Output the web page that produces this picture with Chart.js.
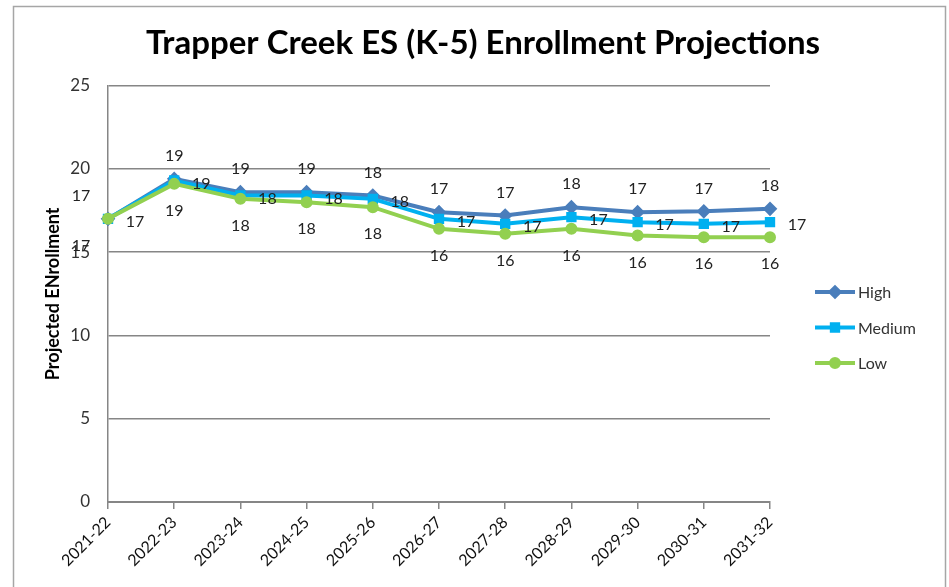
<!DOCTYPE html>
<html lang="en">
<head>
<meta charset="UTF-8">
<title>Trapper Creek ES Enrollment Projections</title>
<script src="https://cdn.jsdelivr.net/npm/chart.js"></script>
<style>
  body { margin: 0; background: #fff; }
  #wrap { width: 949px; height: 587px; }
</style>
</head>
<body>
<div id="wrap"><canvas id="enrollChart" width="949" height="587"></canvas></div>
<script>
// school years on the x axis
const years = ['2021-22', '2022-23', '2023-24', '2024-25', '2025-26', '2026-27',
               '2027-28', '2028-29', '2029-30', '2030-31', '2031-32'];

// projected enrollment
const high   = [17.0, 19.4, 18.6, 18.6, 18.4, 17.4, 17.2, 17.7, 17.4, 17.45, 17.6];
const medium = [17.0, 19.3, 18.4, 18.4, 18.2, 17.0, 16.7, 17.1, 16.8, 16.7, 16.8];
const low    = [17.0, 19.1, 18.2, 18.0, 17.7, 16.4, 16.1, 16.4, 16.0, 15.9, 15.9];

const yTicks = [0, 5, 10, 15, 20, 25];

const FONT = 'Lato, "Open Sans", sans-serif';
const TEXT = '#333333';

// frame around the whole chart
const framePlugin = {
    id: 'frame',
    beforeDraw(chart) {
        const ctx = chart.ctx;
        ctx.save();
        ctx.fillStyle = '#fff';
        ctx.fillRect(0, 0, chart.width, chart.height);
        ctx.strokeStyle = '#a6a6a6';
        ctx.lineWidth = 1.5;
        ctx.strokeRect(13.5, 6.5, 932, 600);
        ctx.restore();
    }
};

// centre the title over the whole frame, not just the plot
const titleShift = {
    id: 'titleShift',
    afterLayout(chart) {
        const t = chart.titleBlock;
        if (t) { t.left = 17; t.right = 949; t.width = 932; }
    }
};

// value labels next to each point (high above, medium right, low below)
const valueLabels = {
    id: 'valueLabels',
    afterDatasetsDraw(chart) {
        const ctx = chart.ctx;
        ctx.save();
        ctx.font = '16px ' + FONT;
        ctx.fillStyle = '#222';
        ctx.textAlign = 'center';
        ctx.textBaseline = 'middle';
        chart.data.datasets.forEach((ds, i) => {
            const meta = chart.getDatasetMeta(i);
            meta.data.forEach((pt, j) => {
                let x = pt.x, y = pt.y;
                if (ds.labelPos === 'top') { y -= 23; if (j === 0) x -= 27; }
                else if (ds.labelPos === 'bottom') { y += 27; if (j === 0) x -= 27; }
                else { x += 27; y += 3; }
                ctx.fillText(Math.round(ds.data[j]).toString(), x, y);
            });
        });
        ctx.restore();
    }
};

// legend on the right: line with marker and label
const sideLegend = {
    id: 'sideLegend',
    afterDraw(chart) {
        const ctx = chart.ctx;
        const x0 = 815, x1 = 855;
        ctx.save();
        chart.data.datasets.forEach((ds, k) => {
            const y = 292 + k * 35.5;
            ctx.strokeStyle = ds.borderColor;
            ctx.lineWidth = 4;
            ctx.beginPath();
            ctx.moveTo(x0, y);
            ctx.lineTo(x1, y);
            ctx.stroke();
            Chart.helpers.drawPoint(ctx, {
                pointStyle: ds.pointStyle,
                radius: ds.pointRadius,
                borderWidth: 1
            }, (x0 + x1) / 2, y);
            ctx.fillStyle = ds.borderColor;
            ctx.fill();
            ctx.fillStyle = TEXT;
            ctx.font = '16px ' + FONT;
            ctx.textAlign = 'left';
            ctx.textBaseline = 'middle';
            ctx.fillText(ds.label, x1 + 3, y + 1);
        });
        ctx.restore();
    }
};

const ctx = document.getElementById('enrollChart').getContext('2d');
new Chart(ctx, {
    type: 'line',
    data: {
        labels: years,
        datasets: [
            {
                label: 'High',
                data: high,
                borderColor: '#4a7ebb',
                backgroundColor: '#4a7ebb',
                pointStyle: 'rectRot',
                pointRadius: 4.5,
                borderWidth: 4,
                labelPos: 'top',
                order: 2
            },
            {
                label: 'Medium',
                data: medium,
                borderColor: '#00b0f0',
                backgroundColor: '#00b0f0',
                pointStyle: 'rect',
                pointRadius: 4.5,
                borderWidth: 4,
                labelPos: 'right',
                order: 1
            },
            {
                label: 'Low',
                data: low,
                borderColor: '#92d050',
                backgroundColor: '#92d050',
                pointStyle: 'circle',
                pointRadius: 4,
                borderWidth: 4,
                labelPos: 'bottom',
                order: 0
            }
        ]
    },
    options: {
        responsive: false,
        animation: false,
        layout: { padding: { left: 20, right: 179, top: 0, bottom: 0 } },
        plugins: {
            legend: { display: false },
            tooltip: { enabled: false },
            title: {
                display: true,
                text: 'Trapper Creek ES (K-5) Enrollment Projections',
                color: '#000',
                font: { family: FONT, size: 33, weight: 'bold' },
                padding: { top: 24, bottom: 22 }
            }
        },
        scales: {
            x: {
                offset: false,
                grid: {
                    display: true,
                    drawOnChartArea: false,
                    drawTicks: true,
                    tickLength: 7,
                    color: '#868686',
                    lineWidth: 1.5
                },
                border: { color: '#868686', width: 2 },
                ticks: {
                    color: '#111',
                    font: { family: FONT, size: 16 },
                    minRotation: 45,
                    maxRotation: 45,
                    padding: 4
                },
                afterFit(scale) { scale.height = 85; }
            },
            y: {
                min: 0,
                max: 25,
                afterBuildTicks(scale) { scale.ticks = yTicks.map(v => ({ value: v })); },
                grid: {
                    color: '#868686',
                    lineWidth: 1.5,
                    drawTicks: false
                },
                border: { color: '#868686', width: 1.5 },
                ticks: {
                    color: TEXT,
                    font: { family: FONT, size: 17 },
                    padding: 18
                },
                title: {
                    display: true,
                    text: 'Projected ENrollment',
                    color: '#000',
                    font: { family: FONT, size: 18, weight: 'bold' },
                    padding: { top: 22, bottom: 0 }
                },
                afterFit(scale) { scale.width = 88; }
            }
        }
    },
    plugins: [framePlugin, titleShift, valueLabels, sideLegend]
});
</script>
</body>
</html>
